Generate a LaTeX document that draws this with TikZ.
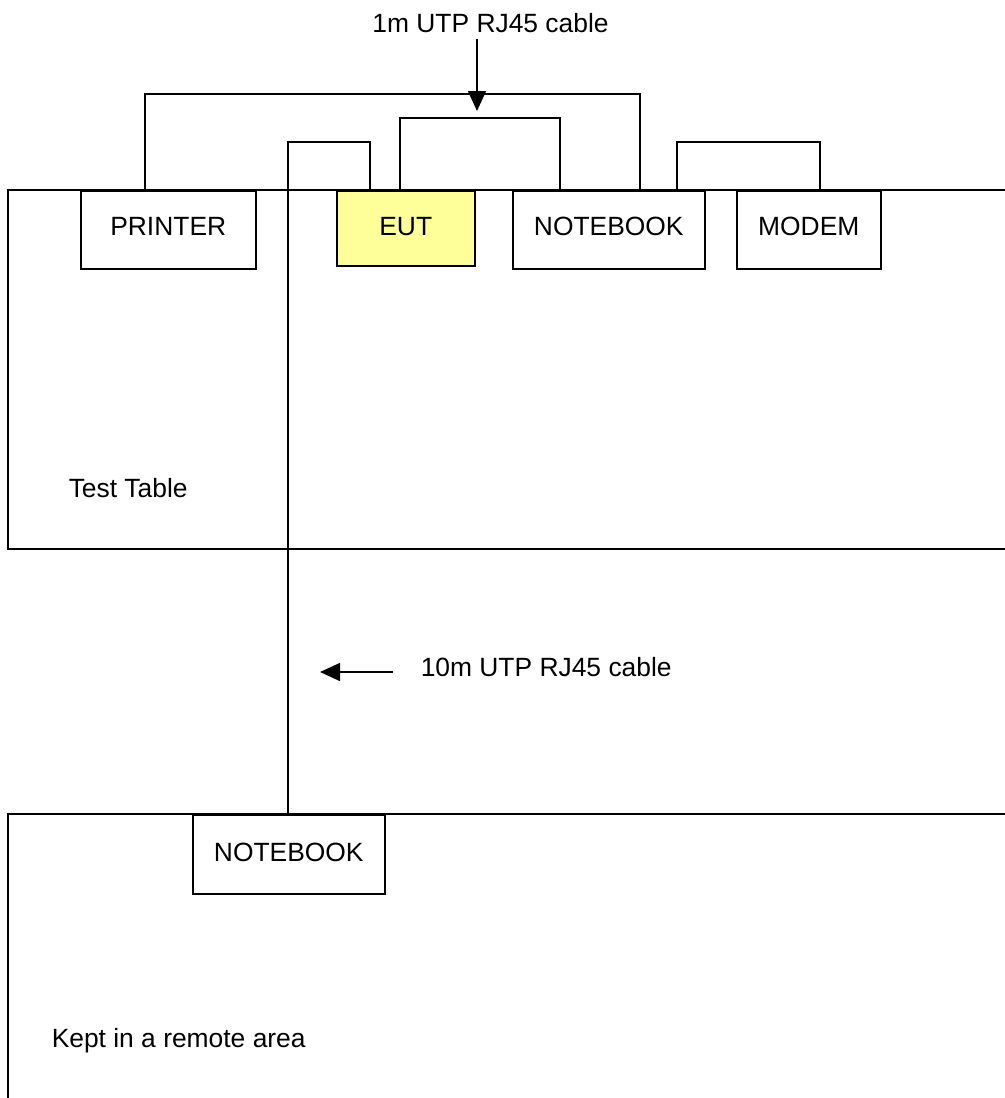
\documentclass[tikz,border=0pt]{standalone}
\usepackage{fontspec}
\setmainfont{Liberation Sans}
\usetikzlibrary{arrows.meta}
\begin{document}
\begin{tikzpicture}[x=0.5pt,y=-0.5pt,
  line width=0.75pt,
  txt/.style={font=\fontsize{13.2pt}{15pt}\selectfont, inner sep=0pt},
  dev/.style={draw, anchor=north west, inner sep=0pt,
    font=\fontsize{13.2pt}{15pt}\selectfont,
    text height=10pt, text depth=4pt},
  cable/.style={draw},
  arr/.style={-{Triangle[length=10pt,width=9pt]}}]
\useasboundingbox (0,0) rectangle (1005,1098);
% areas
\draw (1005,190) -- (8,190) -- (8,549) -- (1005,549);
\draw (1005,814) -- (8,814) -- (8,1100);
% devices
\node[dev, minimum width=87.5pt, minimum height=39pt] (printer) at (80,190) {PRINTER};
\node[dev, fill={rgb,255:red,255;green,255;blue,153}, minimum width=69pt, minimum height=37.5pt,
  text depth=2.5pt] (eut) at (336,190) {EUT};
\node[dev, minimum width=96pt, minimum height=39pt] (nb1) at (512,190) {NOTEBOOK};
\node[dev, minimum width=72pt, minimum height=39pt] (modem) at (736,190) {MODEM};
\node[dev, minimum width=96pt, minimum height=39.5pt, text depth=3pt] (nb2) at (192,814) {NOTEBOOK};
% labels
\node[txt, anchor=base west] (tt) at (68,497) {Test Table};
\node[txt, anchor=base west] (remote) at (51,1047) {Kept in a remote area};
\node[txt, anchor=base] (lab1) at (490.5,32) {1m UTP RJ45 cable};
\node[txt, anchor=base west] (lab2) at (420,676) {10m UTP RJ45 cable};
% cable anchor points
\path (printer.north west) ++(65,0) coordinate (pA);
\path (nb1.north west) ++(128,0) coordinate (nA);
\path (eut.north west) ++(64,0) coordinate (eA);
\path (nb1.north west) ++(48,0) coordinate (nB);
\path (nb2.north west) ++(96,0) coordinate (rA);
\path (eut.north west) ++(34,0) coordinate (eB);
\path (nb1.north west) ++(165,0) coordinate (nC);
\path (modem.north west) ++(84,0) coordinate (mA);
% cables
\draw[cable] (pA) -- ++(0,-96) -| (nA);
\draw[cable] (eA) -- ++(0,-72) -| (nB);
\draw[cable] (rA) -- ++(0,-672) -| (eB);
\draw[cable] (nC) -- ++(0,-48) -| (mA);
% arrows
\coordinate (a1s) at (477,39);
\coordinate (a1e) at (477,111);
\draw[arr] (a1s) -- (a1e);
\coordinate (a2s) at (393,672);
\coordinate (a2e) at (320,672);
\draw[arr] (a2s) -- (a2e);
\end{tikzpicture}
\end{document}
